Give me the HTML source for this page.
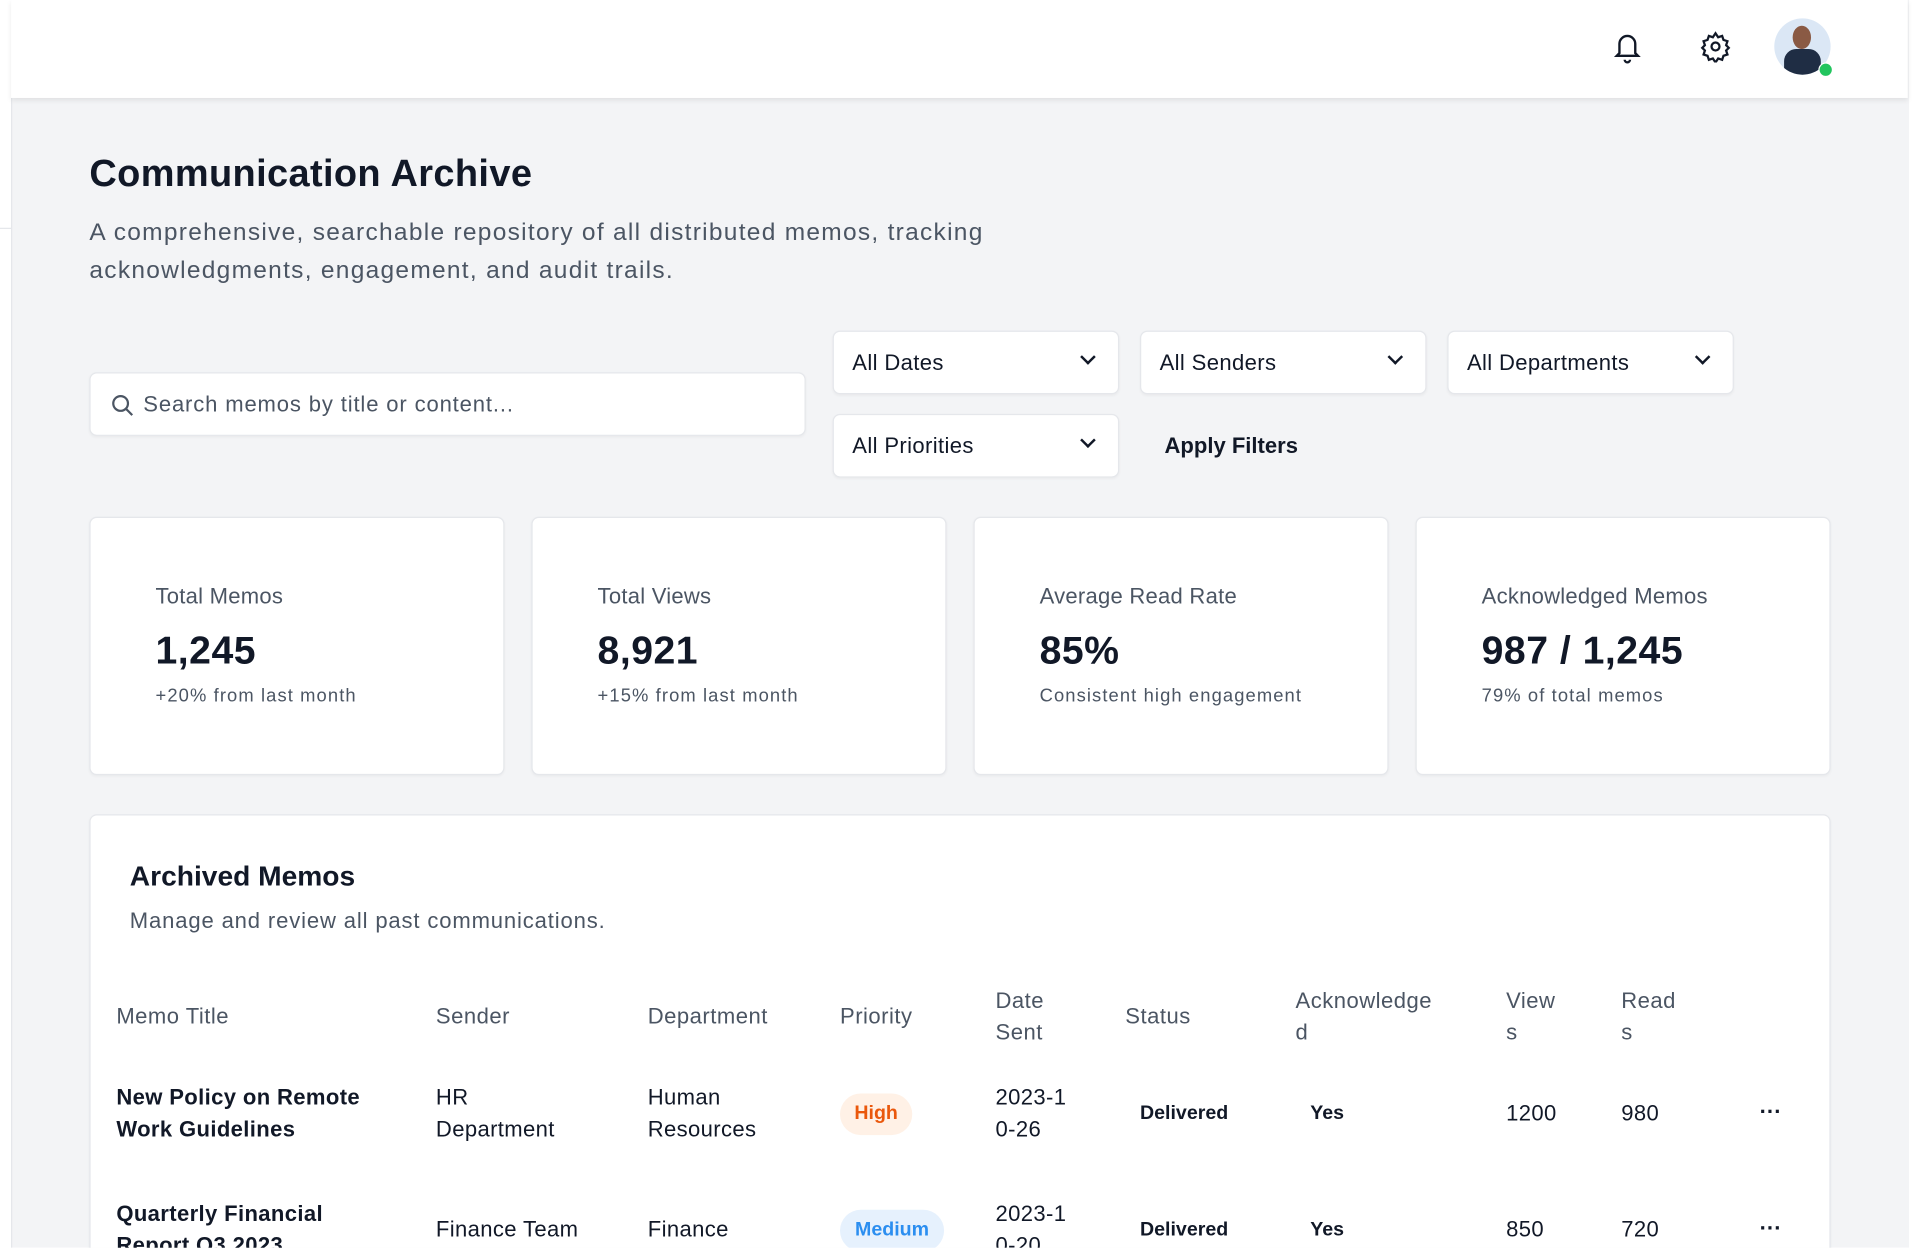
<!DOCTYPE html>
<html><head><meta charset="utf-8"><style>
html,body{margin:0;padding:0;width:1920px;height:1248px;overflow:hidden;background:#fff;font-family:"Liberation Sans",sans-serif;}
#w{position:absolute;left:0;top:0;width:1568px;height:1019px;overflow:hidden;transform:scale(1.22449);transform-origin:0 0;}
.a{position:absolute;white-space:nowrap;}
.main{position:absolute;left:9px;top:0;width:1549px;height:1019px;background:#f3f4f6;border-left:1px solid #e5e7eb;}
.hdr{position:absolute;left:9px;top:0;width:1549px;height:80px;background:#fff;box-shadow:0 2px 4px rgba(0,0,0,0.08);}
.box{position:absolute;background:#fff;border:1px solid #e5e7eb;border-radius:6px;box-sizing:border-box;box-shadow:0 1px 2px rgba(0,0,0,0.04);}
.sel{font-size:18px;color:#111827;letter-spacing:0.3px;}
.sel span{position:absolute;left:15px;top:15px;}
.chev{position:absolute;right:20px;top:16px;width:7px;height:7px;border-right:2px solid #111827;border-bottom:2px solid #111827;transform:rotate(45deg);}
.card .l{position:absolute;left:53px;top:54px;font-size:18px;color:#4b5563;letter-spacing:0.2px;}
.card .v{position:absolute;left:53px;top:90px;font-size:32px;font-weight:bold;color:#111827;letter-spacing:0.4px;}
.card .s{position:absolute;left:53px;top:137px;font-size:15px;color:#4b5563;letter-spacing:0.9px;}
.th{font-size:18px;color:#4b5563;line-height:26px;letter-spacing:0.4px;}
.td{font-size:18px;color:#111827;line-height:26px;letter-spacing:0.3px;}
</style></head><body><div id="w">
<div class="main"></div>
<div class="a" style="left:0;top:186px;width:9px;height:1px;background:#e5e7eb"></div>
<div class="hdr"></div>
<svg class="a" style="left:1316px;top:24px" width="26" height="28" viewBox="0 0 24 26" fill="none" stroke="#111827" stroke-width="1.8"><path d="M6 18V11a6 6 0 0 1 12 0v7l2 2H4z"/><path d="M10 23a2 2 0 0 0 4 0"/></svg>
<svg class="a" style="left:1388px;top:25px" width="26" height="26" viewBox="0 0 24 24" fill="none" stroke="#111827" stroke-width="1.7"><circle cx="12" cy="12" r="3"/><path d="M12 2l2 3 3-1 1 3 3 1-1 3 2 2-2 2 1 3-3 1-1 3-3-1-2 3-2-3-3 1-1-3-3-1 1-3-2-2 2-2-1-3 3-1 1-3 3 1z"/></svg>
<div class="a" style="left:1449px;top:15px;width:46px;height:46px;border-radius:50%;background:#dbe7f5;overflow:hidden">
<div class="a" style="left:15px;top:6px;width:15px;height:19px;border-radius:50%;background:#8a5a44"></div>
<div class="a" style="left:8px;top:25px;width:30px;height:24px;border-radius:10px 10px 0 0;background:#1f2d44"></div></div>
<div class="a" style="left:1485px;top:51px;width:10px;height:10px;border-radius:50%;background:#22c55e;border:1px solid #fff"></div>

<div class="a" style="left:73px;top:124px;font-size:31px;font-weight:bold;color:#111827;letter-spacing:0.3px">Communication Archive</div>
<div class="a" style="left:73px;top:175px;font-size:20px;color:#4b5563;line-height:31px;letter-spacing:1.05px">A comprehensive, searchable repository of all distributed memos, tracking<br>acknowledgments, engagement, and audit trails.</div>

<div class="box" style="left:73px;top:304px;width:585px;height:52px">
<svg class="a" style="left:16px;top:16px" width="20" height="20" viewBox="0 0 20 20" fill="none" stroke="#4b5563" stroke-width="1.8"><circle cx="8.5" cy="8.5" r="6"/><path d="M13 13l5 5"/></svg>
<span class="a" style="left:43px;top:15px;font-size:18px;color:#4b5563;letter-spacing:0.7px">Search memos by title or content...</span></div>
<div class="box sel" style="left:680px;top:270px;width:234px;height:52px"><span>All Dates</span><i class="chev"></i></div>
<div class="box sel" style="left:931px;top:270px;width:234px;height:52px"><span>All Senders</span><i class="chev"></i></div>
<div class="box sel" style="left:1182px;top:270px;width:234px;height:52px"><span>All Departments</span><i class="chev"></i></div>
<div class="box sel" style="left:680px;top:338px;width:234px;height:52px"><span>All Priorities</span><i class="chev"></i></div>
<div class="a" style="left:951px;top:354px;font-size:18px;font-weight:bold;color:#111827">Apply Filters</div>

<div class="box card" style="left:73px;top:422px;width:339px;height:211px"><div class="l">Total Memos</div><div class="v">1,245</div><div class="s">+20% from last month</div></div>
<div class="box card" style="left:434px;top:422px;width:339px;height:211px"><div class="l">Total Views</div><div class="v">8,921</div><div class="s">+15% from last month</div></div>
<div class="box card" style="left:795px;top:422px;width:339px;height:211px"><div class="l">Average Read Rate</div><div class="v">85%</div><div class="s">Consistent high engagement</div></div>
<div class="box card" style="left:1156px;top:422px;width:339px;height:211px"><div class="l">Acknowledged Memos</div><div class="v">987 / 1,245</div><div class="s">79% of total memos</div></div>

<div class="box" style="left:73px;top:665px;width:1422px;height:400px"></div>
<div class="a" style="left:106px;top:702px;font-size:23px;font-weight:bold;color:#111827">Archived Memos</div>
<div class="a" style="left:106px;top:742px;font-size:18px;color:#4b5563;letter-spacing:0.7px">Manage and review all past communications.</div>

<div class="a th" style="left:95px;top:817px">Memo Title</div>
<div class="a th" style="left:356px;top:817px">Sender</div>
<div class="a th" style="left:529px;top:817px">Department</div>
<div class="a th" style="left:686px;top:817px">Priority</div>
<div class="a th" style="left:813px;top:804px">Date<br>Sent</div>
<div class="a th" style="left:919px;top:817px">Status</div>
<div class="a th" style="left:1058px;top:804px">Acknowledge<br>d</div>
<div class="a th" style="left:1230px;top:804px">View<br>s</div>
<div class="a th" style="left:1324px;top:804px">Read<br>s</div>

<div class="a td" style="left:95px;top:883px;font-weight:bold">New Policy on Remote<br>Work Guidelines</div>
<div class="a td" style="left:356px;top:883px">HR<br>Department</div>
<div class="a td" style="left:529px;top:883px">Human<br>Resources</div>
<div class="a" style="left:686px;top:893px;width:59px;height:34px;border-radius:17px;background:#fff1e6;color:#ea580c;font-size:16px;font-weight:bold;text-align:center;line-height:34px">High</div>
<div class="a td" style="left:813px;top:883px">2023-1<br>0-26</div>
<div class="a" style="left:931px;top:901px;font-size:16px;font-weight:bold;color:#111827">Delivered</div>
<div class="a" style="left:1070px;top:901px;font-size:16px;font-weight:bold;color:#111827">Yes</div>
<div class="a td" style="left:1230px;top:896px">1200</div>
<div class="a td" style="left:1324px;top:896px">980</div>
<div class="a" style="left:1437px;top:898px;font-size:18px;font-weight:bold;color:#111827">···</div>

<div class="a td" style="left:95px;top:978px;font-weight:bold">Quarterly Financial<br>Report Q3 2023</div>
<div class="a td" style="left:356px;top:991px">Finance Team</div>
<div class="a td" style="left:529px;top:991px">Finance</div>
<div class="a" style="left:686px;top:988px;width:85px;height:34px;border-radius:17px;background:#e6f1fd;color:#2b8ef0;font-size:16px;font-weight:bold;text-align:center;line-height:34px">Medium</div>
<div class="a td" style="left:813px;top:978px">2023-1<br>0-20</div>
<div class="a" style="left:931px;top:996px;font-size:16px;font-weight:bold;color:#111827">Delivered</div>
<div class="a" style="left:1070px;top:996px;font-size:16px;font-weight:bold;color:#111827">Yes</div>
<div class="a td" style="left:1230px;top:991px">850</div>
<div class="a td" style="left:1324px;top:991px">720</div>
<div class="a" style="left:1437px;top:993px;font-size:18px;font-weight:bold;color:#111827">···</div>
</div></body></html>
